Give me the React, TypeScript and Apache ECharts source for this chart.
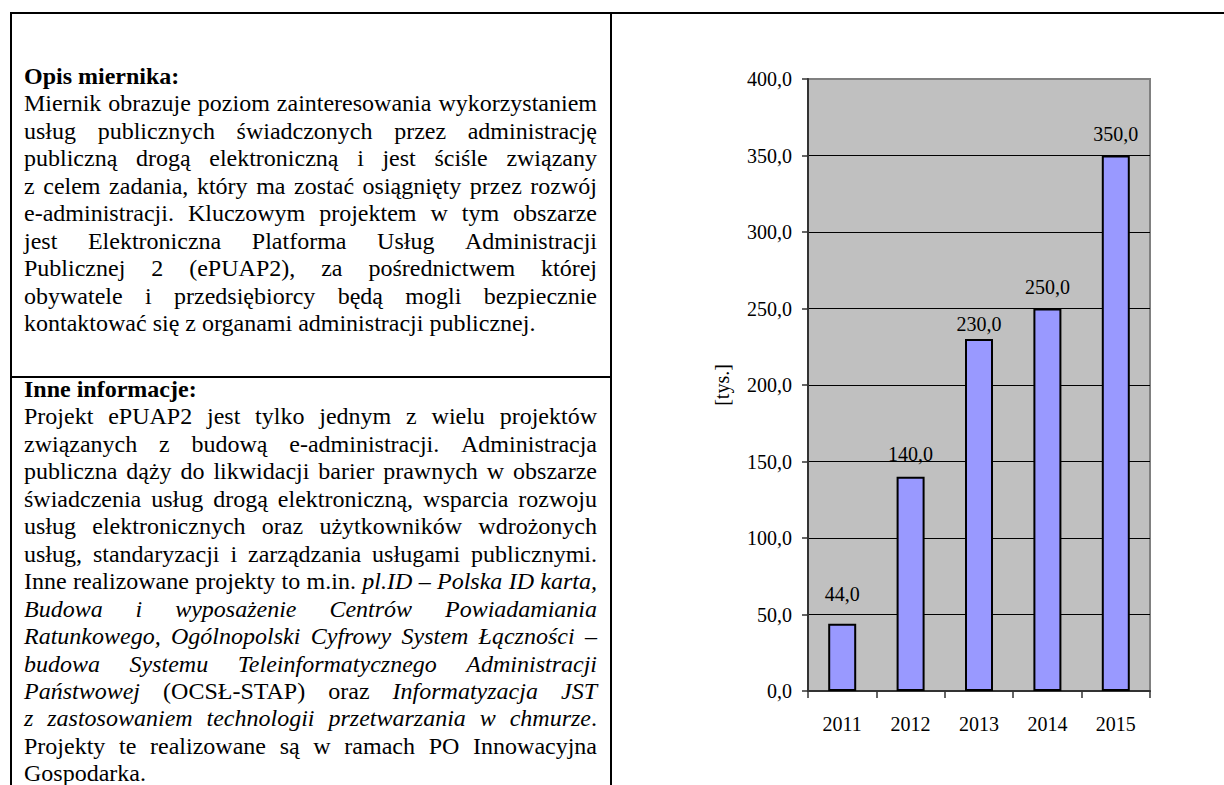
import React, { useEffect, useRef } from "react";
import * as echarts from "echarts";

// ---- chart data ----
const years = ["2011", "2012", "2013", "2014", "2015"];
const values = [44, 140, 230, 250, 350];
const yMin = 0;
const yMax = 400;
const yStep = 50;
const yAxisTitle = "[tys.]";

// ---- document text (left panel) ----
type Run = [string, "n" | "i" | "b"];
const heading1 = "Opis miernika:";
const opisLines: Run[][] = [
  [["Miernik obrazuje poziom zainteresowania wykorzystaniem", "n"]],
  [["usług publicznych świadczonych przez administrację", "n"]],
  [["publiczną drogą elektroniczną i jest ściśle związany", "n"]],
  [["z celem zadania, który ma zostać osiągnięty przez rozwój", "n"]],
  [["e-administracji. Kluczowym projektem w tym obszarze", "n"]],
  [["jest Elektroniczna Platforma Usług Administracji", "n"]],
  [["Publicznej 2 (ePUAP2), za pośrednictwem której", "n"]],
  [["obywatele i przedsiębiorcy będą mogli bezpiecznie", "n"]],
  [["kontaktować się z organami administracji publicznej.", "n"]],
];
const heading2 = "Inne informacje:";
const inneLines: Run[][] = [
  [["Projekt ePUAP2 jest tylko jednym z wielu projektów", "n"]],
  [["związanych z budową e-administracji. Administracja", "n"]],
  [["publiczna dąży do likwidacji barier prawnych w obszarze", "n"]],
  [["świadczenia usług drogą elektroniczną, wsparcia rozwoju", "n"]],
  [["usług elektronicznych oraz użytkowników wdrożonych", "n"]],
  [["usług, standaryzacji i zarządzania usługami publicznymi.", "n"]],
  [["Inne realizowane projekty to m.in. ", "n"], ["pl.ID – Polska ID karta,", "i"]],
  [["Budowa i wyposażenie Centrów Powiadamiania", "i"]],
  [["Ratunkowego, Ogólnopolski Cyfrowy System Łączności –", "i"]],
  [["budowa Systemu Teleinformatycznego Administracji", "i"]],
  [["Państwowej", "i"], [" (OCSŁ-STAP) oraz ", "n"], ["Informatyzacja JST", "i"]],
  [["z zastosowaniem technologii przetwarzania w chmurze", "i"], [".", "n"]],
  [["Projekty te realizowane są w ramach PO Innowacyjna", "n"]],
  [["Gospodarka.", "n"]],
];

const SERIF = "Liberation Serif, serif";
const BODY_PX = 24;
const COL_X = 24;
const COL_W = 573;
const LINE_H = 27.45;

function fontStr(st: string) {
  return `${st === "i" ? "italic " : ""}${st === "b" ? "bold " : ""}${BODY_PX}px Liberation Serif`;
}

function toWords(runs: Run[]): Run[][] {
  const words: Run[][] = [];
  let cur: Run[] = [];
  for (const [text, st] of runs) {
    const parts = text.split(" ");
    parts.forEach((p, idx) => {
      if (idx > 0) {
        if (cur.length) words.push(cur);
        cur = [];
      }
      if (p) cur.push([p, st]);
    });
  }
  if (cur.length) words.push(cur);
  return words;
}

function textEl(text: string, st: string, x: number, y: number) {
  return {
    type: "text",
    silent: true,
    x,
    y,
    style: {
      text,
      fontSize: BODY_PX,
      fontFamily: SERIF,
      fontStyle: st === "i" ? "italic" : "normal",
      fontWeight: st === "b" ? "bold" : "normal",
      fill: "#000",
      align: "left",
      verticalAlign: "middle",
    },
  };
}

function buildParagraph(lines: Run[][], startY: number) {
  const canvas = document.createElement("canvas");
  const ctx = canvas.getContext("2d")!;
  const meas = (t: string, st: string) => {
    ctx.font = fontStr(st);
    return ctx.measureText(t).width;
  };
  const space = meas(" ", "n");
  const els: any[] = [];
  lines.forEach((runs, li) => {
    const y = startY + li * LINE_H;
    const words = toWords(runs);
    const widths = words.map((w) => w.reduce((s, [t, st]) => s + meas(t, st), 0));
    const total = widths.reduce((a, b) => a + b, 0);
    const justify = li < lines.length - 1 && words.length > 1;
    const gap = justify ? (COL_W - total) / (words.length - 1) : space;
    let x = COL_X;
    words.forEach((w, wi) => {
      for (const [t, st] of w) {
        els.push(textEl(t, st, x, y));
        x += meas(t, st);
      }
      if (wi < words.length - 1) x += gap;
    });
  });
  return els;
}

const labelDistances = [20, 13, 5, 12, 12];
const fmt = (v: number) => v.toFixed(1).replace(".", ",");

export default function App() {
  const ref = useRef<HTMLDivElement>(null);
  useEffect(() => {
    if (!ref.current) return;
    const chart = echarts.init(ref.current, undefined, { renderer: "svg" });

    const lineStyle = { stroke: "#000", lineWidth: 2 };
    const opisY = 76;
    const inneY = 389;
    const graphics: any[] = [
      { type: "line", silent: true, shape: { x1: 10, y1: 13, x2: 1224, y2: 13 }, style: lineStyle },
      { type: "line", silent: true, shape: { x1: 11, y1: 12, x2: 11, y2: 785 }, style: lineStyle },
      { type: "line", silent: true, shape: { x1: 611, y1: 12, x2: 611, y2: 785 }, style: lineStyle },
      { type: "line", silent: true, shape: { x1: 11, y1: 377, x2: 611, y2: 377 }, style: lineStyle },
      textEl(heading1, "b", COL_X, opisY),
      ...buildParagraph(opisLines, opisY + LINE_H),
      textEl(heading2, "b", COL_X, inneY),
      ...buildParagraph(inneLines, inneY + LINE_H),
    ];

    chart.setOption({
      animation: false,
      backgroundColor: "#fff",
      textStyle: { fontFamily: SERIF },
      grid: {
        left: 808,
        top: 79,
        width: 342,
        height: 612,
        show: true,
        backgroundColor: "#C0C0C0",
        borderColor: "#808080",
        borderWidth: 2,
        containLabel: false,
      },
      xAxis: {
        type: "category",
        data: years,
        boundaryGap: true,
        axisLine: { show: true, lineStyle: { color: "#333", width: 2 } },
        axisTick: { show: true, alignWithLabel: false, length: 7, lineStyle: { color: "#333", width: 1.5 } },
        axisLabel: { margin: 23, fontSize: 20, fontFamily: SERIF, color: "#000" },
        splitLine: { show: false },
      },
      yAxis: {
        type: "value",
        min: yMin,
        max: yMax,
        interval: yStep,
        name: yAxisTitle,
        nameLocation: "middle",
        nameGap: 76,
        nameRotate: 90,
        nameTextStyle: { fontSize: 20, fontFamily: SERIF, color: "#000" },
        axisLine: { show: true, lineStyle: { color: "#333", width: 2 } },
        axisTick: { show: true, length: 6, lineStyle: { color: "#333", width: 1.5 } },
        axisLabel: { margin: 16, fontSize: 20, fontFamily: SERIF, color: "#000", formatter: (v: number) => fmt(v) },
        splitLine: { show: true, showMinLine: false, showMaxLine: false, lineStyle: { color: "#000", width: 1 } },
      },
      series: [
        {
          type: "bar",
          data: values.map((v, i) => ({ value: v, label: { distance: labelDistances[i] } })),
          barWidth: 28,
          itemStyle: { color: "#9999FF", borderColor: "#000", borderWidth: 2 },
          label: {
            show: true,
            position: "top",
            fontSize: 20,
            fontFamily: SERIF,
            color: "#000",
            formatter: (p: any) => fmt(p.value),
          },
        },
      ],
      graphic: graphics,
    });
    return () => chart.dispose();
  }, []);

  return (
    <div
      ref={ref}
      style={{ position: "absolute", left: 0, top: 0, width: 1224, height: 785, background: "#fff" }}
    />
  );
}
